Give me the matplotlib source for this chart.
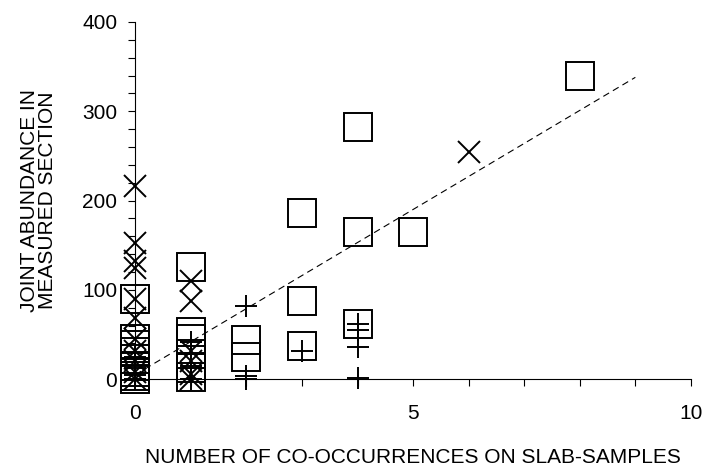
import matplotlib
matplotlib.use("Agg")
import matplotlib.pyplot as plt

plt.rcParams['font.family'] = ['Liberation Sans', 'DejaVu Sans']

# open squares
sq_x = [0, 0, 0, 0, 0, 0, 0, 0, 0, 1, 1, 1, 1, 1, 1, 2, 2, 3, 3, 3, 4, 4, 4, 5, 8]
sq_y = [90, 45, 38, 30, 22, 15, 8, 3, 0, 126, 53, 45, 28, 12, 2, 44, 25, 186, 87, 37, 282, 165, 62, 165, 340]

# crosses
x_x = [0, 0, 0, 0, 0, 0, 0, 0, 0, 0, 0, 1, 1, 1, 1, 1, 1, 6]
x_y = [216, 152, 132, 124, 90, 68, 45, 32, 20, 8, 0, 110, 88, 32, 20, 6, 0, 254]

# plus signs
p_x = [0, 0, 0, 0, 1, 1, 1, 1, 2, 2, 2, 3, 4, 4, 4, 4]
p_y = [25, 12, 5, 0, 42, 28, 15, 0, 82, 3, 0, 31, 62, 55, 36, 1]

# dashed trend line
fit_x = [0, 9]
fit_y = [5, 338]

fig = plt.figure(figsize=(7.05, 4.68), dpi=100)
ax = fig.add_axes([0.192, 0.190, 0.788, 0.763])

ax.plot(fit_x, fit_y, linestyle=(0, (6, 4)), color='black', linewidth=0.8, clip_on=False)
ax.plot(sq_x, sq_y, linestyle='none', marker='s', markersize=20, markerfacecolor='none',
        markeredgecolor='black', markeredgewidth=1.4, clip_on=False)
ax.plot(x_x, x_y, linestyle='none', marker='x', markersize=16,
        markeredgecolor='black', markeredgewidth=1.4, clip_on=False)
ax.plot(p_x, p_y, linestyle='none', marker='+', markersize=16,
        markeredgecolor='black', markeredgewidth=1.4, clip_on=False)

ax.set_xlim(0, 10)
ax.set_ylim(0, 400)
ax.spines['top'].set_visible(False)
ax.spines['right'].set_visible(False)
for s in ['left', 'bottom']:
    ax.spines[s].set_linewidth(0.8)

ax.set_xticks([0, 5, 10])
ax.set_xticks(range(0, 11), minor=True)
ax.set_yticks([0, 100, 200, 300, 400])
ax.set_yticks(range(0, 401, 20), minor=True)
ax.tick_params(axis='both', which='both', direction='out', length=5, width=0.8)
ax.tick_params(axis='x', which='major', labelsize=15, pad=13)
ax.tick_params(axis='y', which='major', labelsize=15, pad=8)

ax.set_xlabel('NUMBER OF CO-OCCURRENCES ON SLAB-SAMPLES', fontsize=15, labelpad=18)
ax.set_ylabel('JOINT ABUNDANCE IN\nMEASURED SECTION', fontsize=15, labelpad=18, linespacing=0.95)

fig.savefig('out.png', dpi=100)
